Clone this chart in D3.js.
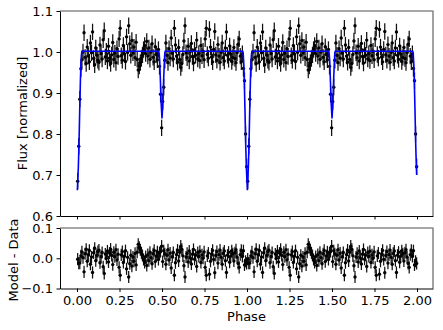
<!DOCTYPE html>
<html><head><meta charset="utf-8">
<script src="https://cdn.jsdelivr.net/npm/d3@7"></script>
<style>
html,body{margin:0;padding:0;background:#fff;}
svg{display:block;font-family:"DejaVu Sans",sans-serif;}
</style></head>
<body><svg id="c" width="443" height="330"></svg>
<script>
// ---- data (one folded cycle, repeated for phases 1..2) ----
const phaseStart = 0.004, phaseStep = 1/160;
const flux = [0.685,0.770,0.885,0.959,0.981,1.000,1.047,0.987,0.972,1.012,
0.990,0.976,1.022,0.998,1.049,0.984,0.969,1.010,0.992,0.980,
0.975,1.017,0.996,0.983,1.030,1.052,0.988,1.002,0.978,1.014,
0.985,0.972,0.993,1.023,0.982,0.997,0.974,1.008,0.989,1.032,
1.058,0.991,0.980,1.016,0.995,0.977,1.037,0.999,1.064,1.020,
0.992,1.028,0.998,1.012,0.986,1.024,0.982,0.956,0.966,0.974,
0.984,0.993,1.006,1.016,0.996,1.026,0.990,1.010,0.982,1.000,
1.020,0.987,0.976,1.013,0.994,0.981,1.006,0.965,0.897,0.815,
0.879,0.914,0.980,1.022,0.992,0.974,1.008,0.985,1.034,0.997,
0.983,1.058,1.017,0.990,0.975,1.011,0.982,0.962,0.972,0.994,
1.027,1.064,0.998,0.986,1.014,0.978,1.001,1.021,0.989,0.973,
1.005,0.992,1.029,0.983,0.996,0.979,1.016,0.991,1.002,0.981,
1.032,1.058,0.994,0.985,1.055,1.012,0.988,0.976,1.006,1.050,
0.993,0.980,1.018,0.990,0.975,0.999,1.022,0.986,0.978,1.010,
1.049,0.992,0.982,1.015,0.995,0.977,0.987,1.011,0.984,0.974,
0.998,1.019,1.032,0.990,0.976,0.996,0.960,0.930,0.800,0.720];
const resid = [-0.003,-0.016,-0.016,0.008,0.021,0.002,-0.045,0.015,0.030,-0.010,
0.012,0.026,-0.020,0.004,-0.047,0.018,0.033,-0.008,0.010,0.022,
0.027,-0.015,0.006,0.019,-0.028,-0.050,0.014,0.000,0.024,-0.012,
0.017,0.030,0.009,-0.021,0.020,0.005,0.028,-0.006,0.013,-0.030,
-0.056,0.011,0.022,-0.014,0.007,0.025,-0.035,0.003,-0.062,-0.018,
0.010,-0.026,0.004,-0.010,0.016,-0.022,0.020,0.046,0.036,0.028,
0.018,0.009,-0.004,-0.014,0.006,-0.024,0.012,-0.008,0.020,0.002,
-0.018,0.015,0.026,-0.011,0.008,0.021,-0.004,0.018,0.022,0.040,
-0.011,0.025,0.015,-0.020,0.010,0.028,-0.006,0.017,-0.032,0.005,
0.019,-0.056,-0.015,0.012,0.027,-0.009,0.020,0.040,0.030,0.008,
-0.025,-0.062,0.004,0.016,-0.012,0.024,0.001,-0.019,0.013,0.029,
-0.003,0.010,-0.027,0.019,0.006,0.023,-0.014,0.011,0.000,0.021,
-0.030,-0.056,0.008,0.017,-0.053,-0.010,0.014,0.026,-0.004,-0.048,
0.009,0.022,-0.016,0.012,0.027,0.003,-0.020,0.016,0.024,-0.008,
-0.047,0.010,0.020,-0.013,0.007,0.025,0.015,-0.009,0.018,0.028,
0.004,-0.017,-0.030,0.012,0.026,0.006,0.025,-0.022,-0.010,-0.017];
const fluxErr = 0.02, residErr = 0.02;
const cycles = [0, 1];

const modelPhase = [0.002,0.008,0.012,0.016,0.020,0.023,0.026,0.029,
 0.481,0.484,0.487,0.491,0.495,0.500,0.505,0.509,0.513,0.516,0.519,
 0.975,0.978,0.981,0.984,0.988,0.992,0.996,1.002,1.008,1.012,1.016,1.020,1.023,1.026,1.029,
 1.481,1.484,1.487,1.491,1.495,1.500,1.505,1.509,1.513,1.516,1.519,
 1.975,1.978,1.981,1.984,1.988,1.992,1.996,1.998];
const modelFlux = [0.663,0.720,0.780,0.860,0.930,0.970,0.993,1.002,
 1.002,0.993,0.970,0.925,0.875,0.838,0.875,0.925,0.970,0.993,1.002,
 1.002,0.993,0.970,0.930,0.860,0.780,0.720,0.663,0.720,0.780,0.860,0.930,0.970,0.993,1.002,
 1.002,0.993,0.970,0.925,0.875,0.838,0.875,0.925,0.970,0.993,1.002,
 1.002,0.993,0.970,0.930,0.860,0.780,0.720,0.700];

const xTicks = [0,0.25,0.5,0.75,1,1.25,1.5,1.75,2];
const yTopTicks = [0.6,0.7,0.8,0.9,1.0,1.1];
const yBotTicks = [-0.1,0.0,0.1];

// ---- layout ----
const L = 60, R = 433;
const top1 = 11, bot1 = 216, top2 = 228, bot2 = 288.5;
const svg = d3.select("#c");
const x = d3.scaleLinear().domain([-0.1, 2.094]).range([L, R]);
const y1 = d3.scaleLinear().domain([0.6, 1.1]).range([bot1, top1]);
const y2 = d3.scaleLinear().domain([-0.1, 0.1]).range([bot2, top2]);

const pts = [];
cycles.forEach(c => flux.forEach((f, i) => pts.push({p: phaseStart + i*phaseStep + c, f: f, r: resid[i]})));

function axisStyle(g){
  g.selectAll("text").attr("font-size", 13).attr("fill", "#000").attr("font-family", "DejaVu Sans");
  g.selectAll("line").attr("stroke", "#000");
  g.select(".domain").attr("stroke", "#000");
}

// top panel data
const gT = svg.append("g");
gT.selectAll("line.eb").data(pts).join("line")
  .attr("x1", d => x(d.p)).attr("x2", d => x(d.p))
  .attr("y1", d => y1(d.f - fluxErr)).attr("y2", d => y1(d.f + fluxErr))
  .attr("stroke", "#111").attr("stroke-width", 1.25);
gT.selectAll("circle").data(pts).join("circle")
  .attr("cx", d => x(d.p)).attr("cy", d => y1(d.f)).attr("r", 1.7).attr("fill", "#000");
const model = modelPhase.map((p, i) => [p, modelFlux[i]]);
gT.append("path").datum(model)
  .attr("d", d3.line().x(d => x(d[0])).y(d => y1(d[1])))
  .attr("fill", "none").attr("stroke", "#0000ff").attr("stroke-width", 1.6);

// bottom panel data
const gB = svg.append("g");
gB.selectAll("line.eb").data(pts).join("line")
  .attr("x1", d => x(d.p)).attr("x2", d => x(d.p))
  .attr("y1", d => y2(d.r - residErr)).attr("y2", d => y2(d.r + residErr))
  .attr("stroke", "#111").attr("stroke-width", 1.25);
gB.selectAll("circle").data(pts).join("circle")
  .attr("cx", d => x(d.p)).attr("cy", d => y2(d.r)).attr("r", 1.7).attr("fill", "#000");

// frames: top/right gray
[[top1, bot1],[top2, bot2]].forEach(([t, b]) => {
  svg.append("line").attr("x1", L).attr("x2", R + 0.5).attr("y1", t).attr("y2", t)
    .attr("stroke", "#8a8a8a").attr("stroke-width", 1.4);
  svg.append("line").attr("x1", R).attr("x2", R).attr("y1", t).attr("y2", b)
    .attr("stroke", "#8a8a8a").attr("stroke-width", 1.6);
});

// axes
svg.append("g").attr("transform", `translate(${L},0)`)
  .call(d3.axisLeft(y1).tickValues(yTopTicks).tickFormat(d3.format(".1f")).tickSize(3.5).tickPadding(3.5).tickSizeOuter(0))
  .call(axisStyle);
svg.append("g").attr("transform", `translate(0,${bot1})`)
  .call(d3.axisBottom(x).tickValues(xTicks).tickFormat("").tickSize(3.5).tickSizeOuter(0))
  .call(axisStyle);
svg.append("g").attr("transform", `translate(${L},0)`)
  .call(d3.axisLeft(y2).tickValues(yBotTicks).tickFormat(d3.format(".1f")).tickSize(3.5).tickPadding(3.5).tickSizeOuter(0))
  .call(axisStyle);
svg.append("g").attr("transform", `translate(0,${bot2})`)
  .call(d3.axisBottom(x).tickValues(xTicks).tickFormat(d3.format(".2f")).tickSize(3.5).tickPadding(3.5).tickSizeOuter(0))
  .call(axisStyle);

// labels
svg.append("text").attr("transform", "translate(26.5,113.5) rotate(-90)")
  .attr("text-anchor", "middle").attr("font-size", 13).text("Flux [normalized]");
svg.append("text").attr("transform", "translate(18.3,260) rotate(-90)")
  .attr("text-anchor", "middle").attr("font-size", 13).text("Model - Data");
svg.append("text").attr("x", (L + R) / 2).attr("y", 320.5)
  .attr("text-anchor", "middle").attr("font-size", 13).text("Phase");
</script></body></html>
